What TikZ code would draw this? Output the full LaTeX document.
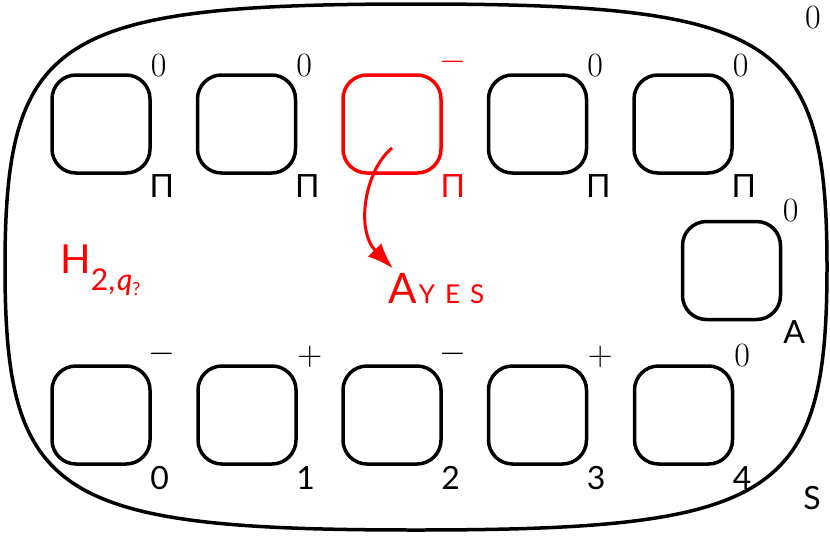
\documentclass[tikz,border=0pt]{standalone}
\usepackage{fontspec}
\newfontfamily\labfont{Lato}
\usetikzlibrary{arrows.meta,calc}
\definecolor{hl}{RGB}{255,0,0}
\tikzset{
  box/.style={draw, line width=1.75pt, rounded corners=12pt,
    minimum width=49pt, minimum height=49pt, inner sep=0pt},
  num/.style={inner sep=0pt, font=\fontsize{17}{17}\selectfont},
  snum/.style={inner sep=0pt, font=\labfont\fontsize{16}{16}\selectfont},
  tag/.style={inner sep=0pt, font=\labfont\fontsize{16}{16}\selectfont},
  sign/.style={inner sep=0pt, font=\fontsize{16}{16}\selectfont},
}
\begin{document}
\begin{tikzpicture}[x=0.5pt, y=-0.5pt]
  \useasboundingbox (0,0) rectangle (830,536);

  % outer squircle
  \draw[line width=1.75pt]
    (827,267) .. controls (827,497) and (776,530) .. (416,530)
              .. controls (56,530) and (5,497) .. (5,267)
              .. controls (5,37) and (56,4) .. (416,4)
              .. controls (776,4) and (827,37) .. (827,267) -- cycle;
  \node[num] (outzero) at (813,18) {0};
  \node[tag] (outs) at (812,498) {S};

  % top row
  \node[box] (t1) at (101,124) {};
  \node[box] (t2) at (246.5,124) {};
  \node[box, draw=hl] (t3) at (392,124) {};
  \node[box] (t4) at (537.5,124) {};
  \node[box] (t5) at (683,124) {};
  \foreach \i in {1,2,4,5} {
    \node[num] (ts\i) at ($(t\i.north east)+(7,-8)$) {0};
    \node[tag] (tp\i) at ($(t\i.south east)+(10,11)$) {Π};
  }
  \node[sign, text=hl] (ts3) at ($(t3.north east)+(10,-11)$) {$-$};
  \node[tag, text=hl] (tp3) at ($(t3.south east)+(10,11)$) {Π};

  % middle box
  \node[box] (m) at (731.5,270.5) {};
  \node[num] (ms) at ($(m.north east)+(8.5,-9.5)$) {0};
  \node[tag] (ma) at ($(m.south east)+(12,11)$) {A};

  % bottom row
  \node[box] (b0) at (101,415) {};
  \node[box] (b1) at (247,415) {};
  \node[box] (b2) at (392,415) {};
  \node[box] (b3) at (537.5,415) {};
  \node[box] (b4) at (683.5,415) {};
  \foreach \i/\s/\dx/\dy in {0/-/10/-10, 1/+/12/-7, 2/-/10/-10, 3/+/12/-7} {
    \node[sign] (bs\i) at ($(b\i.north east)+(\dx,\dy)$) {$\s$};
  }
  \node[num] (bs4) at ($(b4.north east)+(8,-9)$) {0};
  \foreach \i in {0,...,4} {
    \node[snum] (bn\i) at ($(b\i.south east)+(8,12)$) {\i};
  }

  % red labels
  \node[anchor=base west, text=hl, inner sep=0pt] (hlab) at (60,273)
    {\labfont\fontsize{20}{20}\selectfont H\raisebox{-8.5pt}{\fontsize{15}{15}\selectfont 2,\hspace{1pt}{\itshape q}\raisebox{-2.5pt}{\fontsize{9}{9}\selectfont ?}}};
  \node[anchor=base west, text=hl, inner sep=0pt] (ayes) at (388,303)
    {\labfont\fontsize{21}{21}\selectfont A\hspace{1pt}\fontsize{13}{13}\selectfont Y\hspace{5pt}E\hspace{5pt}S};

  \draw[hl, line width=1.5pt, -{Latex[length=13pt,width=9.5pt]}]
    ($(t3.center)+(0,24)$) .. controls (365,170) and (355,230) .. ($(ayes.north west)+(5,-4)$);
\end{tikzpicture}
\end{document}
